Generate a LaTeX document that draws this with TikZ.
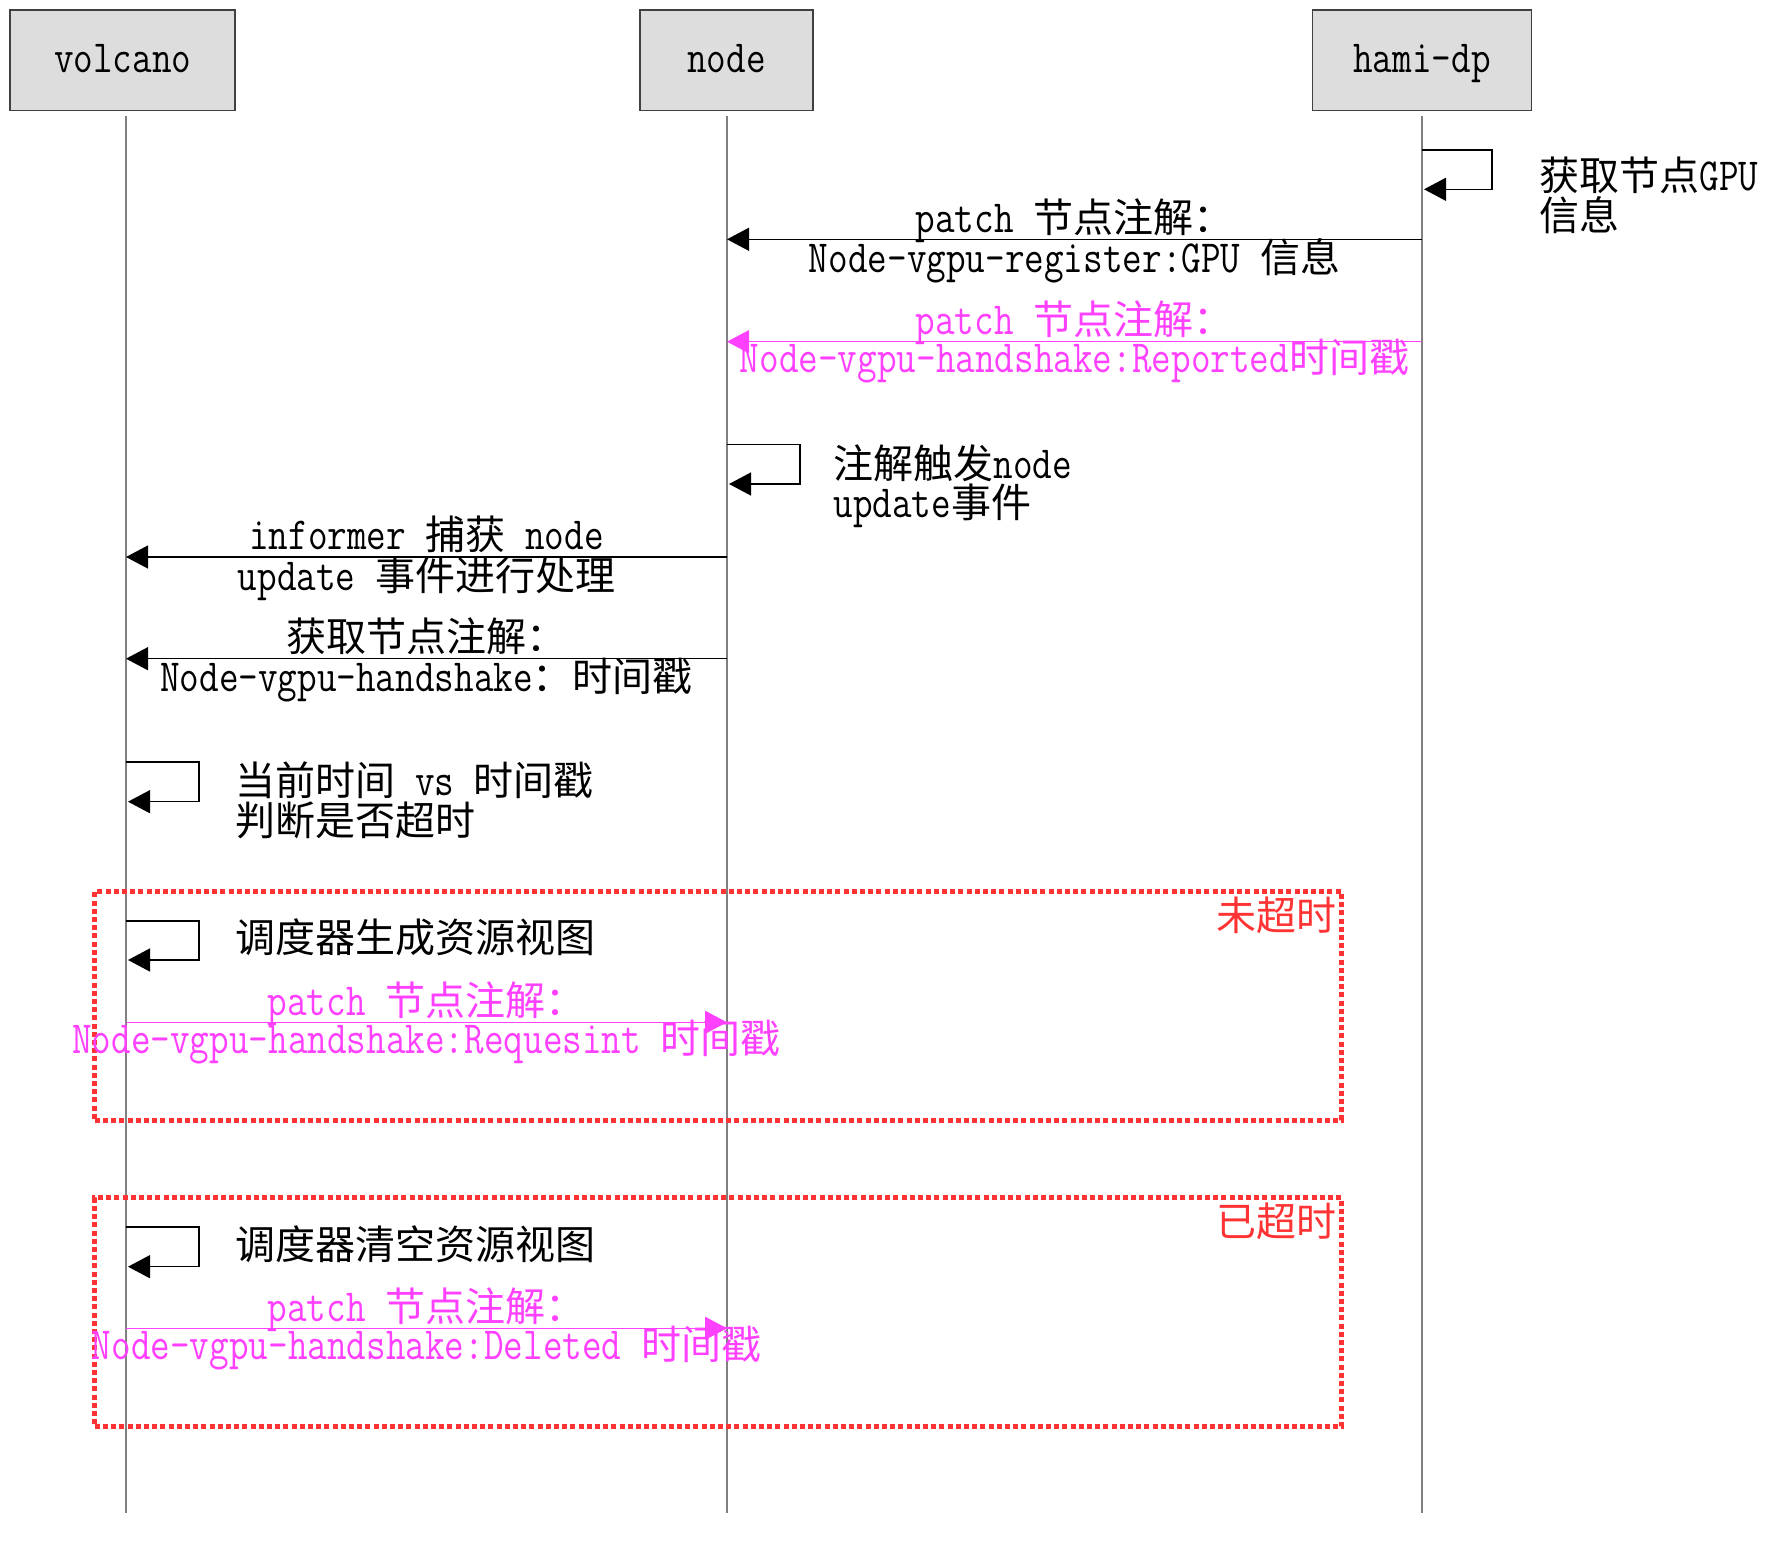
\documentclass[tikz,border=0pt]{standalone}
\usepackage{fontspec}
\setmainfont[FakeStretch=0.828]{Latin Modern Mono}
\newfontfamily\cjk{Noto Sans CJK SC}
\newcommand{\zh}[1]{{\fontsize{20pt}{20pt}\cjk #1}}
\usetikzlibrary{arrows.meta, positioning}
\definecolor{BoxGray}{RGB}{221,221,221}
\definecolor{MsgPink}{RGB}{255,64,255}
\definecolor{FrameRed}{RGB}{255,51,51}

\begin{document}
\begin{tikzpicture}[x=0.5pt, y=-0.5pt,
	font=\fontsize{23pt}{23pt}\selectfont,
	actor/.style={draw=black!75, line width=0.75pt, fill=BoxGray, minimum height=50.35pt, inner sep=0pt,
		text height=17.25pt, text depth=4.6pt},
	life/.style={draw=black!50, line width=0.6pt},
	msg/.style={draw=black, line width=0.65pt, -{Triangle[length=11pt,width=11.5pt]}},
	pmsg/.style={msg, color=MsgPink},
	lbl/.style={anchor=base, inner sep=0pt},
	note/.style={anchor=base west, inner sep=0pt},
	frame/.style={draw=FrameRed, line width=2.5pt, dash pattern=on 2.5pt off 1.6pt, inner sep=0pt},
	tag/.style={anchor=base east, inner sep=0pt, text=FrameRed},
	]
	\useasboundingbox (0,0) rectangle (1771,1551);

	% participants
	\node[actor, minimum width=112.5pt] (volcano) at (122.7,60.3) {volcano};
	\node[actor, minimum width=86.5pt] (node) at (726.5,60.3) {node};
	\node[actor, minimum width=109.5pt] (hami) at (1422,60.3) {hami-dp};

	% lifelines
	\coordinate (vEnd) at (126,1513);
	\coordinate (nEnd) at (727,1513);
	\coordinate (hEnd) at (1422,1513);
	\foreach \p/\e in {volcano/vEnd, node/nEnd, hami/hEnd}
		\draw[life] ([yshift=-2.5pt]\e |- \p.south) -- (\e);

	% hami-dp
	\coordinate (h0) at (1422,150);
	\coordinate (h1) at (1424,189.3);
	\draw[msg] (h0) -- ++(70,0) |- (h1);
	\node[note] (gpuA) at (1539,191) {\zh{获取节点}GPU};
	\node[note] (gpuB) at (1539,231) {\zh{信息}};

	\coordinate (m1h) at (1422,239.3);
	\coordinate (m1n) at (727,239.3);
	\draw[msg] (m1h) -- (m1n)
		node[lbl, pos=.5, yshift=3.5pt] (m1a) {patch \zh{节点注解：}}
		node[lbl, pos=.5, yshift=-16.5pt] (m1b) {Node-vgpu-register:GPU \zh{信息}};

	\coordinate (m2h) at (1422,341.7);
	\coordinate (m2n) at (727,341.7);
	\draw[pmsg] (m2h) -- (m2n)
		node[lbl, pos=.5, yshift=3.6pt] (m2a) {patch \zh{节点注解：}}
		node[lbl, pos=.5, yshift=-15.5pt] (m2b) {Node-vgpu-handshake:Reported\zh{时间戳}};

	% node
	\coordinate (n0) at (727,444.3);
	\coordinate (n1) at (729,484);
	\draw[msg] (n0) -- ++(73,0) |- (n1);
	\node[note] (updA) at (833,478.3) {\zh{注解触发}node};
	\node[note] (updB) at (833,517.3) {update\zh{事件}};

	\coordinate (m3n) at (727,557);
	\coordinate (m3v) at (126,557);
	\draw[msg] (m3n) -- (m3v)
		node[lbl, pos=.5, yshift=3.8pt] (m3a) {informer \zh{捕获} node}
		node[lbl, pos=.5, yshift=-16.5pt] (m3b) {update \zh{事件进行处理}};

	\coordinate (m4n) at (727,658.7);
	\coordinate (m4v) at (126,658.7);
	\draw[msg] (m4n) -- (m4v)
		node[lbl, pos=.5, yshift=3.8pt] (m4a) {\zh{获取节点注解：}}
		node[lbl, pos=.5, yshift=-16.5pt] (m4b) {Node-vgpu-handshake\zh{：时间戳}};

	% volcano
	\coordinate (v0) at (126,762);
	\coordinate (v1) at (128,801.7);
	\draw[msg] (v0) -- ++(73,0) |- (v1);
	\node[note] (chkA) at (235,795) {\zh{当前时间} vs \zh{时间戳}};
	\node[note] (chkB) at (235,835) {\zh{判断是否超时}};

	% not timed out
	\node[frame, minimum width=623.35pt, minimum height=114.15pt] (okBox) at (718.15,1005.85) {};
	\node[tag] (okTag) at ([xshift=-3.5pt, yshift=-20.5pt]okBox.north east) {\zh{未超时}};
	\coordinate (v2) at (126,921);
	\coordinate (v3) at (128,960);
	\draw[msg] (v2) -- ++(73,0) |- (v3);
	\node[note] (genView) at (235,952) {\zh{调度器生成资源视图}};
	\coordinate (m5v) at (126,1022.3);
	\coordinate (m5n) at (727,1022.3);
	\draw[pmsg] (m5v) -- (m5n)
		node[lbl, pos=.5, yshift=3.6pt] (m5a) {patch \zh{节点注解：}}
		node[lbl, pos=.5, yshift=-15.5pt] (m5b) {Node-vgpu-handshake:Requesint \zh{时间戳}};

	% timed out
	\node[frame, minimum width=623.35pt, minimum height=114.5pt] (toBox) at (718.15,1312.2) {};
	\node[tag] (toTag) at ([xshift=-3.5pt, yshift=-20.5pt]toBox.north east) {\zh{已超时}};
	\coordinate (v4) at (126,1227);
	\coordinate (v5) at (128,1266.7);
	\draw[msg] (v4) -- ++(73,0) |- (v5);
	\node[note] (clrView) at (235,1259) {\zh{调度器清空资源视图}};
	\coordinate (m6v) at (126,1328.3);
	\coordinate (m6n) at (727,1328.3);
	\draw[pmsg] (m6v) -- (m6n)
		node[lbl, pos=.5, yshift=3.6pt] (m6a) {patch \zh{节点注解：}}
		node[lbl, pos=.5, yshift=-15.5pt] (m6b) {Node-vgpu-handshake:Deleted \zh{时间戳}};
\end{tikzpicture}
\end{document}
